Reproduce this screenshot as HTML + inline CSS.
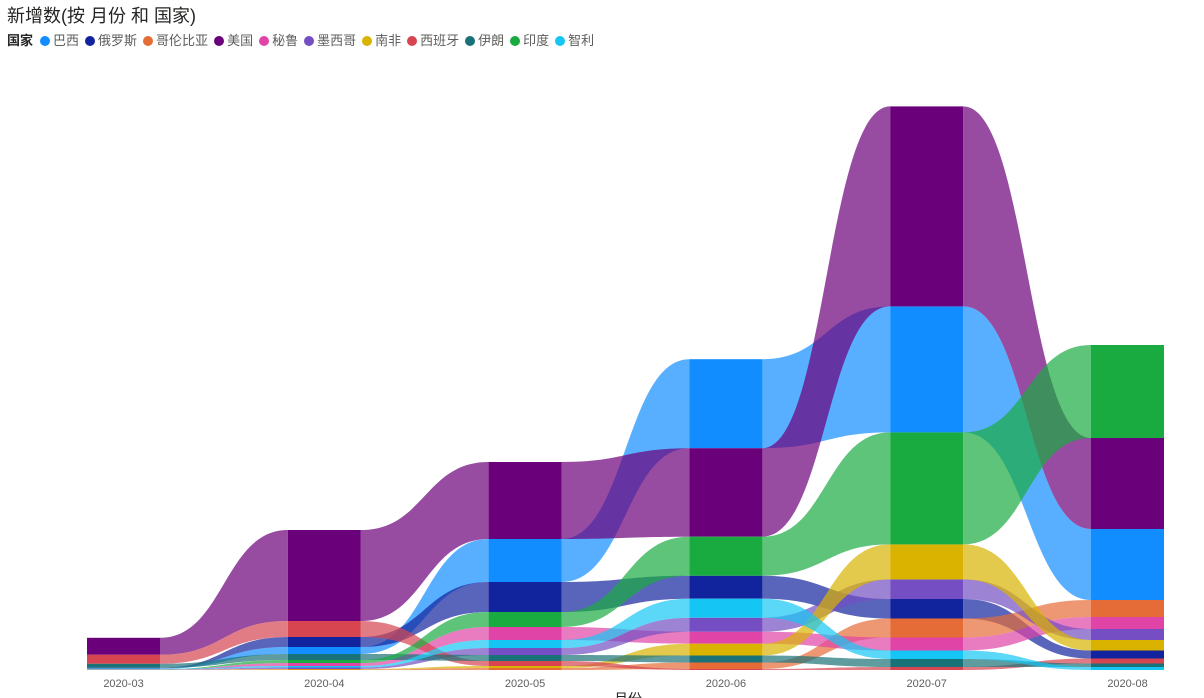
<!DOCTYPE html>
<html><head><meta charset="utf-8">
<style>
body{margin:0;background:#fff;width:1204px;height:698px;overflow:hidden;font-family:"Liberation Sans","Noto Sans CJK SC",sans-serif;}
#title{position:absolute;left:7px;top:2px;font-size:18px;color:#252423;}
#legend{position:absolute;left:7px;top:30px;font-size:13px;color:#605e5c;white-space:nowrap;}
#legend b{color:#252423;margin-right:7px;}
.li{display:inline-block;margin-right:6px;}
.dot{display:inline-block;width:10px;height:10px;border-radius:50%;margin-right:3px;vertical-align:-1px;}
svg{position:absolute;left:0;top:0;}
</style></head><body>
<div id="title">新增数(按 月份 和 国家)</div>
<div id="legend"><b>国家</b></div>
<svg id="chart" width="1204" height="698"></svg>
<script>
const months=["2020-03","2020-04","2020-05","2020-06","2020-07","2020-08"];
const countries=["巴西","俄罗斯","哥伦比亚","美国","秘鲁","墨西哥","南非","西班牙","伊朗","印度","智利"];
const colors=["#118DFF","#12239E","#E66C37","#6B007B","#E044A7","#744EC2","#D9B300","#D64550","#197278","#1AAB40","#15C6F4"];
// values in thousands of new cases, per country, per month
const brazil=[5,70,430,890,1260,710];
const russia=[5,100,300,230,195,80];
const colombia=[1,5,20,65,190,170];
const usa=[170,910,770,885,2000,910];
const peru=[2,30,130,120,130,120];
const mexico=[2,15,70,140,196,110];
const southAfrica=[1,5,20,118,350,105];
const spain=[90,160,50,10,30,50];
const iran=[40,60,60,70,80,35];
const india=[2,30,150,390,1120,930];
const chile=[4,15,80,190,85,30];
const series=[brazil,russia,colombia,usa,peru,mexico,southAfrica,spain,iran,india,chile];

const svg=document.getElementById('chart');
const NS='http://www.w3.org/2000/svg';
const baseY=670, pxPerUnit=563/5630;
const x0=87, step=200.8, colW=73;
const xL=i=>x0+i*step, xR=i=>x0+i*step+colW;
const yS=v=>baseY-v*pxPerUnit;

// legend
const lg=document.getElementById('legend');
countries.forEach((c,k)=>{
  const s=document.createElement('span');s.className='li';
  
  
  s.innerHTML='<span class="dot" style="background:'+colors[k]+'"></span>'+c;
  lg.appendChild(s);
});

// stack positions: largest on top
const pos=months.map((m,i)=>{
  const idx=countries.map((c,k)=>k).sort((a,b)=>series[a][i]-series[b][i]);
  const p={};let acc=0;
  idx.forEach(k=>{p[k]={bot:yS(acc),top:yS(acc+series[k][i])};acc+=series[k][i];});
  return p;
});

// ribbons
for(let i=0;i<months.length-1;i++){
  countries.forEach((c,k)=>{
    const a=pos[i][k],b=pos[i+1][k];
    const x1=xR(i),x2=xL(i+1),mx=(x1+x2)/2;
    const d=`M${x1},${a.top} C${mx},${a.top} ${mx},${b.top} ${x2},${b.top} L${x2},${b.bot} C${mx},${b.bot} ${mx},${a.bot} ${x1},${a.bot} Z`;
    const p=document.createElementNS(NS,'path');
    p.setAttribute('d',d);p.setAttribute('fill',colors[k]);p.setAttribute('fill-opacity','0.7');
    
    
    svg.appendChild(p);
  });
}
// columns
months.forEach((m,i)=>{
  countries.forEach((c,k)=>{
    const q=pos[i][k];const h=q.bot-q.top;if(h<=0)return;
    const r=document.createElementNS(NS,'rect');
    r.setAttribute('x',xL(i));r.setAttribute('y',q.top);r.setAttribute('width',colW);r.setAttribute('height',h);
    r.setAttribute('fill',colors[k]);
    
    
    svg.appendChild(r);
  });
  const t=document.createElementNS(NS,'text');
  t.setAttribute('x',xL(i)+colW/2);t.setAttribute('y',687);t.setAttribute('text-anchor','middle');
  t.setAttribute('font-size','11');t.setAttribute('fill','#605e5c');
  t.setAttribute('font-family','"Liberation Sans",sans-serif');
  t.textContent=m;
  
  
  svg.appendChild(t);
});
const at=document.createElementNS(NS,'text');
at.setAttribute('x',628);at.setAttribute('y',704);at.setAttribute('text-anchor','middle');
at.setAttribute('font-size','14');at.setAttribute('fill','#252423');
at.setAttribute('font-family','"Liberation Sans","Noto Sans CJK SC",sans-serif');
at.textContent='月份';


svg.appendChild(at);
</script>
</body></html>
